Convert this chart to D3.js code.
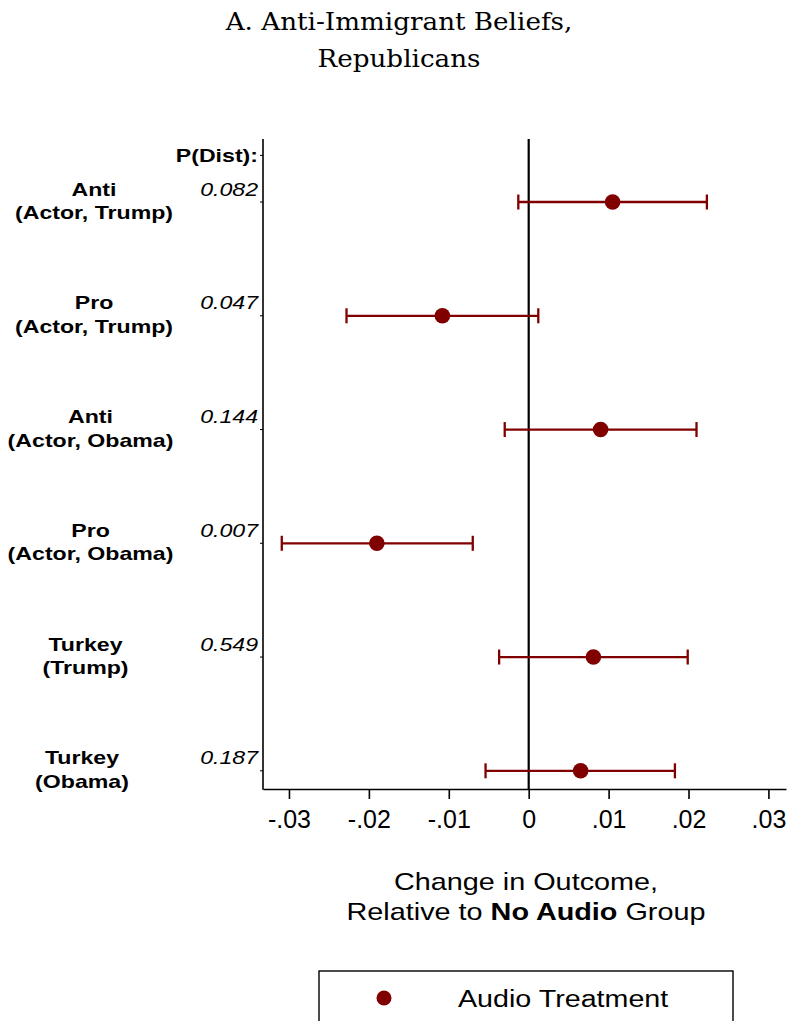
<!DOCTYPE html>
<html>
<head>
<meta charset="utf-8">
<script src="https://cdn.jsdelivr.net/npm/d3@7"></script>
<style>
  html, body { margin: 0; padding: 0; background: #fff; }
  svg { display: block; }
</style>
</head>
<body>
<svg id="chart" width="792" height="1021"></svg>
<script>
// ---------------- data ----------------
const labelLine1 = ["Anti", "Pro", "Anti", "Pro", "Turkey", "Turkey"];
const labelLine2 = ["(Actor, Trump)", "(Actor, Trump)", "(Actor, Obama)", "(Actor, Obama)", "(Trump)", "(Obama)"];
const pDist = ["0.082", "0.047", "0.144", "0.007", "0.549", "0.187"];
const estimates = [0.0105, -0.0108, 0.0090, -0.0190, 0.0081, 0.0065];
const lowerCI = [-0.0013, -0.0228, -0.0030, -0.0309, -0.0037, -0.0054];
const upperCI = [0.0223, 0.0012, 0.0210, -0.0070, 0.0199, 0.0183];
const xTicks = [-0.03, -0.02, -0.01, 0, 0.01, 0.02, 0.03];
const titleLines = ["A. Anti-Immigrant Beliefs,", "Republicans"];
const legendLabel = "Audio Treatment";

// ---------------- layout ----------------
const color = "#800000";
const sans = "'Liberation Sans', Arial, Helvetica, sans-serif";
const labelCenterX = [94, 94, 90.5, 90.5, 85.5, 82];
const labelStretch = 1.25, titleStretch = 1.07, axisTitleStretch = 1.2, legendStretch = 1.17;

const svg = d3.select("#chart");
const idx = d3.range(estimates.length);

const x = d3.scaleLinear().domain([-0.03325, 0.0322]).range([263, 786]);
const y = d3.scaleLinear().domain([-0.554, 5.16]).range([139, 789]);

// title
svg.append("g").selectAll("text").data(titleLines).join("text")
  .attr("transform", (d, i) => `translate(399,${30 + i * 37}) scale(${titleStretch},1)`)
  .attr("text-anchor", "middle")
  .attr("font-family", "'DejaVu Serif', serif")
  .attr("font-size", 24.5)
  .attr("fill", "#000")
  .text(d => d);

// bottom axis
const fmt = d => d === 0 ? "0" : (d < 0 ? "-" : "") + Math.abs(d).toFixed(2).replace(/^0/, "");
const xAxis = svg.append("g")
  .attr("transform", `translate(0,${y.range()[1]})`)
  .call(d3.axisBottom(x).tickValues(xTicks).tickFormat(fmt).tickSize(10).tickSizeOuter(0).tickPadding(11));
xAxis.select(".domain").attr("stroke", "#000").attr("stroke-width", 1.6);
xAxis.selectAll(".tick line").attr("stroke", "#000").attr("stroke-width", 1.6);
xAxis.selectAll(".tick text").attr("font-family", sans).attr("font-size", 25).attr("fill", "#000");

// left axis line
svg.append("line")
  .attr("x1", x.range()[0]).attr("x2", x.range()[0])
  .attr("y1", y.range()[0]).attr("y2", y.range()[1] + 0.8)
  .attr("stroke", "#000").attr("stroke-width", 1.6);

// small y ticks at label positions
const yTickPos = idx.map(i => y(i)).concat([y(-0.41)]);
svg.append("g").selectAll("line").data(yTickPos).join("line")
  .attr("x1", x.range()[0] - 3).attr("x2", x.range()[0])
  .attr("y1", d => d).attr("y2", d => d)
  .attr("stroke", "#000").attr("stroke-width", 1);

// zero reference line
svg.append("line")
  .attr("x1", x(0)).attr("x2", x(0))
  .attr("y1", y.range()[0]).attr("y2", y.range()[1])
  .attr("stroke", "#000").attr("stroke-width", 2.2);

// header
svg.append("text")
  .attr("transform", `translate(258,${y(-0.41) + 6.5}) scale(${labelStretch},1)`)
  .attr("text-anchor", "end")
  .attr("font-family", sans).attr("font-weight", "bold").attr("font-size", 18.5)
  .text("P(Dist):");

// row labels
const labels = svg.append("g");
idx.forEach(i => {
  const t = labels.append("text")
    .attr("transform", `translate(${labelCenterX[i]},${y(i)}) scale(${labelStretch},1)`)
    .attr("text-anchor", "middle")
    .attr("font-family", sans).attr("font-weight", "bold").attr("font-size", 18.5);
  t.append("tspan").attr("x", 0).attr("y", -6.5).text(labelLine1[i]);
  t.append("tspan").attr("x", 0).attr("y", 17).text(labelLine2[i]);
});

// p values
svg.append("g").selectAll("text").data(idx).join("text")
  .attr("transform", i => `translate(258,${y(i) - 6.5}) scale(${labelStretch},1)`)
  .attr("text-anchor", "end")
  .attr("font-family", sans).attr("font-style", "italic").attr("font-size", 18.5)
  .text(i => pDist[i]);

// error bars
const bars = svg.append("g").attr("stroke", color).attr("stroke-width", 2.3);
bars.selectAll("line.ci").data(idx).join("line").attr("class", "ci")
  .attr("x1", i => x(lowerCI[i])).attr("x2", i => x(upperCI[i]))
  .attr("y1", i => y(i)).attr("y2", i => y(i));
bars.selectAll("line.capl").data(idx).join("line").attr("class", "capl")
  .attr("x1", i => x(lowerCI[i])).attr("x2", i => x(lowerCI[i]))
  .attr("y1", i => y(i) - 7.5).attr("y2", i => y(i) + 7.5);
bars.selectAll("line.capu").data(idx).join("line").attr("class", "capu")
  .attr("x1", i => x(upperCI[i])).attr("x2", i => x(upperCI[i]))
  .attr("y1", i => y(i) - 7.5).attr("y2", i => y(i) + 7.5);

// points
svg.append("g").selectAll("circle").data(idx).join("circle")
  .attr("cx", i => x(estimates[i])).attr("cy", i => y(i)).attr("r", 7.8)
  .attr("fill", color);

// x axis title
const xt = svg.append("text")
  .attr("transform", `translate(526,0) scale(${axisTitleStretch},1)`)
  .attr("text-anchor", "middle")
  .attr("font-family", sans).attr("font-size", 24).attr("fill", "#000");
xt.append("tspan").attr("x", 0).attr("y", 890).text("Change in Outcome,");
const l2 = xt.append("tspan").attr("x", 0).attr("y", 920);
l2.append("tspan").text("Relative to ");
l2.append("tspan").attr("font-weight", "bold").text("No Audio");
l2.append("tspan").text(" Group");

// legend
svg.append("rect")
  .attr("x", 319).attr("y", 971).attr("width", 414).attr("height", 80)
  .attr("fill", "none").attr("stroke", "#000").attr("stroke-width", 1.4);
svg.append("circle").attr("cx", 384).attr("cy", 998).attr("r", 7.5).attr("fill", color);
svg.append("text")
  .attr("transform", `translate(458,1007) scale(${legendStretch},1)`)
  .attr("font-family", sans).attr("font-size", 24.5).attr("fill", "#000")
  .text(legendLabel);
</script>
</body>
</html>
